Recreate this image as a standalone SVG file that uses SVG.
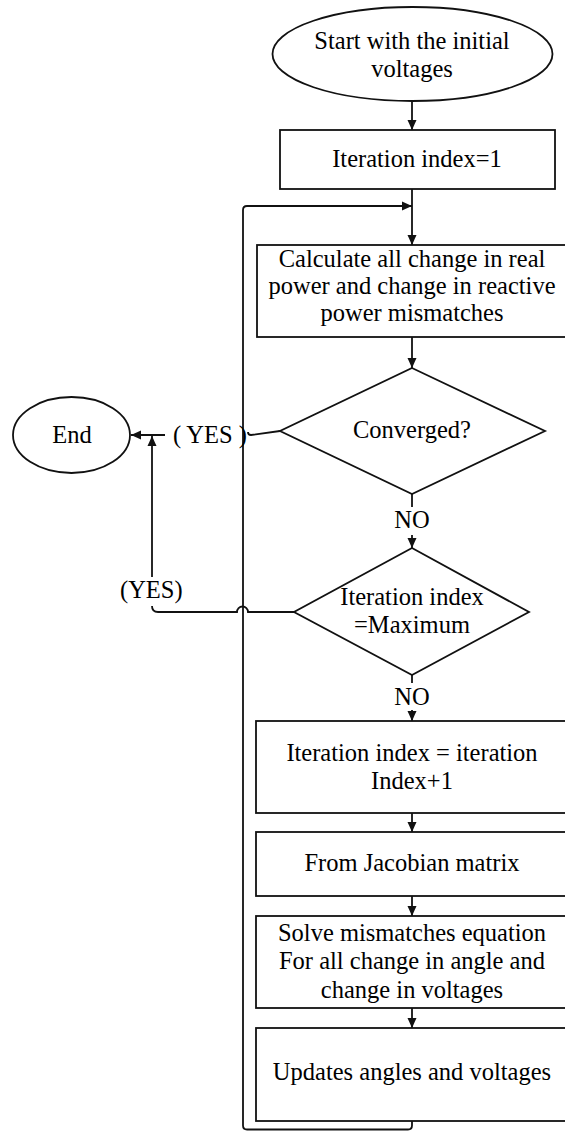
<svg xmlns="http://www.w3.org/2000/svg" width="565" height="1131" viewBox="0 0 565 1131">
<defs>
<marker id="ah" markerUnits="userSpaceOnUse" markerWidth="10" markerHeight="10" viewBox="0 0 10 10" refX="10" refY="5" orient="auto">
<path d="M0,0.5 L10,5 L0,9.5 Z" fill="#111"/>
</marker>
<style>
.s{fill:#fff;stroke:#111;stroke-width:1.8}
.c{fill:none;stroke:#111;stroke-width:1.8}
.t{font-family:"Liberation Serif","Times New Roman",serif;font-size:24.5px;fill:#000;text-anchor:middle}
.tl{font-family:"Liberation Serif","Times New Roman",serif;font-size:24.5px;fill:#000}
</style>
</defs>
<rect width="565" height="1131" fill="#fff"/>
<g id="connectors">
<path class="c" d="M412,101 L412,130" marker-end="url(#ah)"/>
<path class="c" d="M412,189 L412,245" marker-end="url(#ah)"/>
<path class="c" d="M412,1121 L412,1125.5 Q412,1129.5 408,1129.5 L247,1129.5 Q243,1129.5 243,1125.5 L243,210 Q243,206 247,206 L412,206" marker-end="url(#ah)"/>
<path class="c" d="M412,337 L412,368" marker-end="url(#ah)"/>
<path class="c" d="M412,494 L412,507"/>
<path class="c" d="M412,535 L412,548" marker-end="url(#ah)"/>
<path class="c" d="M412,675 L412,683"/>
<path class="c" d="M412,710 L412,721" marker-end="url(#ah)"/>
<path class="c" d="M412,813 L412,832" marker-end="url(#ah)"/>
<path class="c" d="M412,896 L412,916" marker-end="url(#ah)"/>
<path class="c" d="M412,1008 L412,1028" marker-end="url(#ah)"/>
<path class="c" d="M280,431 L251,435 Q248,435 248,432"/>
<path class="c" d="M165,435 L131,435" marker-end="url(#ah)"/>
<path class="c" d="M294,612 L248,612 A5.5,5.5 0 0 0 237,612 L158,612 Q152,612 152,606"/>
<path class="c" d="M152,577 L152,436" marker-end="url(#ah)"/>
<text class="t" x="412" y="528">NO</text>
<text class="t" x="412" y="705">NO</text>
<text class="tl" x="173" y="443">( YES )</text>
<text class="tl" x="120" y="598">(YES)</text>
</g>
<g id="start">
<ellipse class="s" cx="412.5" cy="54" rx="140" ry="47"/>
<text class="t" x="412" y="49">Start with the initial</text>
<text class="t" x="412" y="77">voltages</text>
</g>
<g id="iter1">
<rect class="s" x="280" y="130" width="275" height="59"/>
<text class="t" x="417" y="167">Iteration index=1</text>
</g>
<g id="calc">
<rect class="s" x="257" y="245" width="311" height="92"/>
<text class="t" x="412" y="267">Calculate all change in real</text>
<text class="t" x="412" y="294">power and change in reactive</text>
<text class="t" x="412" y="321">power mismatches</text>
</g>
<g id="converged">
<polygon class="s" points="412,368 545,431 412,494 280,431"/>
<text class="t" x="412" y="438">Converged?</text>
</g>
<g id="maxiter">
<polygon class="s" points="412,548 529,612 412,675 294,612"/>
<text class="t" x="412" y="605">Iteration index</text>
<text class="t" x="412" y="633">=Maximum</text>
</g>
<g id="end">
<ellipse class="s" cx="71.5" cy="435" rx="58.5" ry="38"/>
<text class="t" x="72" y="443">End</text>
</g>
<g id="increment">
<rect class="s" x="256" y="721" width="312" height="92"/>
<text class="t" x="412" y="761">Iteration index = iteration</text>
<text class="t" x="412" y="789">Index+1</text>
</g>
<g id="jacobian">
<rect class="s" x="256" y="832" width="312" height="64"/>
<text class="t" x="412" y="871">From Jacobian matrix</text>
</g>
<g id="solve">
<rect class="s" x="256" y="916" width="312" height="92"/>
<text class="t" x="412" y="941">Solve mismatches equation</text>
<text class="t" x="412" y="969">For all change in angle and</text>
<text class="t" x="412" y="998">change in voltages</text>
</g>
<g id="update">
<rect class="s" x="256" y="1028" width="312" height="93"/>
<text class="t" x="412" y="1080">Updates angles and voltages</text>
</g>
</svg>
